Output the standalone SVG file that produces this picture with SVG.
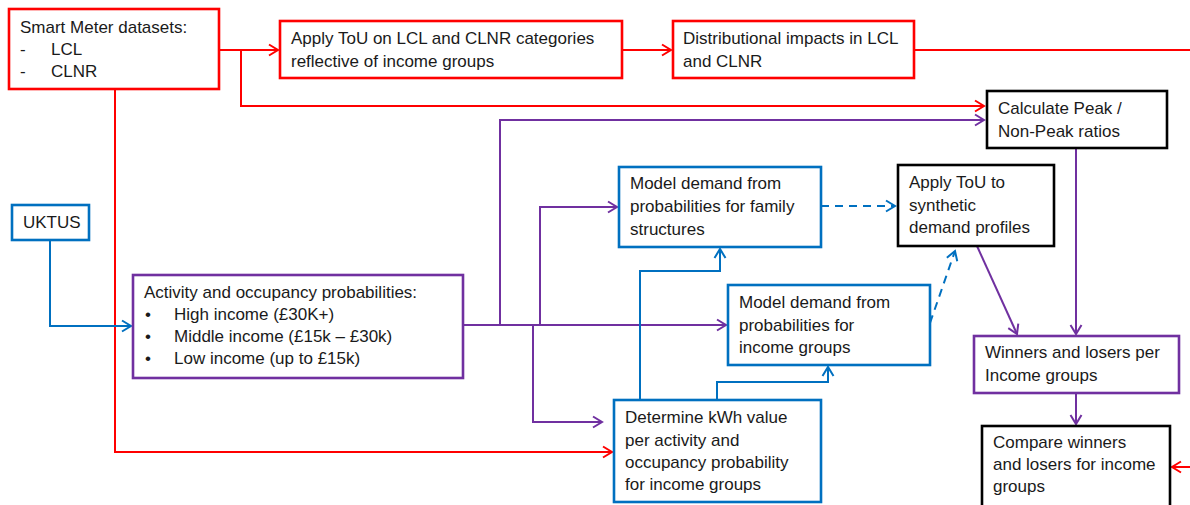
<svg xmlns="http://www.w3.org/2000/svg" width="1190" height="505" viewBox="0 0 1190 505">
<style>
.box{fill:#fff;stroke-width:2.6}
.r{stroke:#FF0000}.p{stroke:#7030A0}.b{stroke:#0070C0}.k{stroke:#000}
.t{font-family:"Liberation Sans",Arial,sans-serif;font-size:17px;fill:#1a1a1a}
.c{fill:none;stroke-width:2}
</style>
<defs>
<marker id="ar" markerUnits="userSpaceOnUse" markerWidth="14" markerHeight="14" refX="11" refY="7" orient="auto"><path d="M2,1.5 L11,7 L2,12.5" fill="none" stroke="#FF0000" stroke-width="2"/></marker>
<marker id="ap" markerUnits="userSpaceOnUse" markerWidth="14" markerHeight="14" refX="11" refY="7" orient="auto"><path d="M2,1.5 L11,7 L2,12.5" fill="none" stroke="#7030A0" stroke-width="2"/></marker>
<marker id="ab" markerUnits="userSpaceOnUse" markerWidth="14" markerHeight="14" refX="11" refY="7" orient="auto"><path d="M2,1.5 L11,7 L2,12.5" fill="none" stroke="#0070C0" stroke-width="2"/></marker>
</defs>
<rect width="1190" height="505" fill="#fff"/>
<g id="connectors">
<polyline class="c r" points="219,50 278,50" marker-end="url(#ar)"/>
<polyline class="c r" points="241,50 241,106 984,106" marker-end="url(#ar)"/>
<polyline class="c r" points="622,50 671,50" marker-end="url(#ar)"/>
<polyline class="c r" points="914,50 1190,50"/>
<polyline class="c r" points="115,89 115,452 612,452" marker-end="url(#ar)"/>
<polyline class="c r" points="1190,467 1172,467" marker-end="url(#ar)"/>
<polyline class="c p" points="463,325 726,325" marker-end="url(#ap)"/>
<polyline class="c p" points="500,325 500,120 984,120" marker-end="url(#ap)"/>
<polyline class="c p" points="540,325 540,207 617,207" marker-end="url(#ap)"/>
<polyline class="c p" points="533,325 533,422 602,422" marker-end="url(#ap)"/>
<polyline class="c p" points="1076,148 1076,334" marker-end="url(#ap)"/>
<polyline class="c p" points="977,246 1017,334" marker-end="url(#ap)"/>
<polyline class="c p" points="1076,393 1076,424" marker-end="url(#ap)"/>
<polyline class="c b" points="50,240 50,326 131,326" marker-end="url(#ab)"/>
<polyline class="c b" points="640,400 640,271 720,271 720,249" marker-end="url(#ab)"/>
<polyline class="c b" points="717,400 717,382 828,382 828,367" marker-end="url(#ab)"/>
<polyline class="c b" points="821,206 895,206" stroke-dasharray="8,6" marker-end="url(#ab)"/>
<polyline class="c b" points="930,323 955,251" stroke-dasharray="8,6" marker-end="url(#ab)"/>
</g>
<g id="smart-meter">
<rect class="box r" x="9" y="9" width="210" height="80"/>
<text class="t" x="20" y="33">Smart Meter datasets:</text>
<text class="t" x="20" y="55">-</text><text class="t" x="51" y="55">LCL</text>
<text class="t" x="20" y="77">-</text><text class="t" x="51" y="77">CLNR</text>
</g>
<g id="apply-tou-lcl">
<rect class="box r" x="280" y="21" width="342" height="57"/>
<text class="t" x="291" y="44">Apply ToU on LCL and CLNR categories</text>
<text class="t" x="291" y="67">reflective of income groups</text>
</g>
<g id="distributional">
<rect class="box r" x="673" y="21" width="241" height="57"/>
<text class="t" x="683" y="44">Distributional impacts in LCL</text>
<text class="t" x="683" y="67">and CLNR</text>
</g>
<g id="calc-peak">
<rect class="box k" x="987" y="91" width="180" height="57"/>
<text class="t" x="998" y="114">Calculate Peak /</text>
<text class="t" x="998" y="137">Non-Peak ratios</text>
</g>
<g id="uktus">
<rect class="box b" x="12" y="205" width="77" height="35"/>
<text class="t" x="23" y="228">UKTUS</text>
</g>
<g id="activity">
<rect class="box p" x="133" y="275" width="330" height="103"/>
<text class="t" x="144" y="298">Activity and occupancy probabilities:</text>
<text class="t" x="145" y="320">•</text><text class="t" x="174" y="320">High income (£30K+)</text>
<text class="t" x="145" y="342">•</text><text class="t" x="174" y="342">Middle income (£15k – £30k)</text>
<text class="t" x="145" y="364">•</text><text class="t" x="174" y="364">Low income (up to £15k)</text>
</g>
<g id="model-family">
<rect class="box b" x="619" y="167" width="202" height="80"/>
<text class="t" x="630" y="189">Model demand from</text>
<text class="t" x="630" y="212">probabilities for family</text>
<text class="t" x="630" y="235">structures</text>
</g>
<g id="model-income">
<rect class="box b" x="728" y="285" width="202" height="80"/>
<text class="t" x="739" y="308">Model demand from</text>
<text class="t" x="739" y="331">probabilities for</text>
<text class="t" x="739" y="353">income groups</text>
</g>
<g id="apply-tou-synthetic">
<rect class="box k" x="898" y="165" width="156" height="81"/>
<text class="t" x="909" y="188">Apply ToU to</text>
<text class="t" x="909" y="211">synthetic</text>
<text class="t" x="909" y="233">demand profiles</text>
</g>
<g id="determine">
<rect class="box b" x="614" y="400" width="207" height="102"/>
<text class="t" x="625" y="423">Determine kWh value</text>
<text class="t" x="625" y="446">per activity and</text>
<text class="t" x="625" y="468">occupancy probability</text>
<text class="t" x="625" y="490">for income groups</text>
</g>
<g id="winners">
<rect class="box p" x="974" y="336" width="205" height="57"/>
<text class="t" x="985" y="358">Winners and losers per</text>
<text class="t" x="985" y="381">Income groups</text>
</g>
<g id="compare">
<rect class="box k" x="982" y="426" width="188" height="90"/>
<text class="t" x="993" y="448">Compare winners</text>
<text class="t" x="993" y="470">and losers for income</text>
<text class="t" x="993" y="492">groups</text>
</g>
</svg>
